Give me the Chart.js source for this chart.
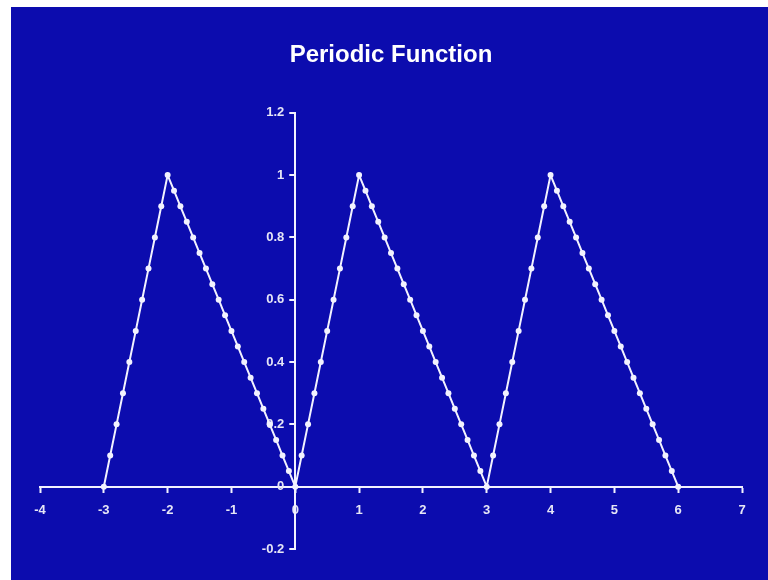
<!DOCTYPE html>
<html>
<head>
<meta charset="utf-8">
<title>Periodic Function</title>
<script src="https://cdn.jsdelivr.net/npm/chart.js@4/dist/chart.umd.min.js"></script>
<style>
  html, body { margin: 0; padding: 0; background: #ffffff; }
  canvas { display: block; }
</style>
</head>
<body>
<canvas id="chart" width="768" height="580"></canvas>
<script>
// Sawtooth-like periodic function sampled every 0.1 from x = -3 to x = 6
const xValues = [
  -3, -2.9, -2.8, -2.7, -2.6, -2.5, -2.4, -2.3, -2.2, -2.1,
  -2, -1.9, -1.8, -1.7, -1.6, -1.5, -1.4, -1.3, -1.2, -1.1,
  -1, -0.9, -0.8, -0.7, -0.6, -0.5, -0.4, -0.3, -0.2, -0.1,
  0, 0.1, 0.2, 0.3, 0.4, 0.5, 0.6, 0.7, 0.8, 0.9,
  1, 1.1, 1.2, 1.3, 1.4, 1.5, 1.6, 1.7, 1.8, 1.9,
  2, 2.1, 2.2, 2.3, 2.4, 2.5, 2.6, 2.7, 2.8, 2.9,
  3, 3.1, 3.2, 3.3, 3.4, 3.5, 3.6, 3.7, 3.8, 3.9,
  4, 4.1, 4.2, 4.3, 4.4, 4.5, 4.6, 4.7, 4.8, 4.9,
  5, 5.1, 5.2, 5.3, 5.4, 5.5, 5.6, 5.7, 5.8, 5.9,
  6
];
const yValues = [
  0, 0.1, 0.2, 0.3, 0.4, 0.5, 0.6, 0.7, 0.8, 0.9,
  1, 0.95, 0.9, 0.85, 0.8, 0.75, 0.7, 0.65, 0.6, 0.55,
  0.5, 0.45, 0.4, 0.35, 0.3, 0.25, 0.2, 0.15, 0.1, 0.05,
  0, 0.1, 0.2, 0.3, 0.4, 0.5, 0.6, 0.7, 0.8, 0.9,
  1, 0.95, 0.9, 0.85, 0.8, 0.75, 0.7, 0.65, 0.6, 0.55,
  0.5, 0.45, 0.4, 0.35, 0.3, 0.25, 0.2, 0.15, 0.1, 0.05,
  0, 0.1, 0.2, 0.3, 0.4, 0.5, 0.6, 0.7, 0.8, 0.9,
  1, 0.95, 0.9, 0.85, 0.8, 0.75, 0.7, 0.65, 0.6, 0.55,
  0.5, 0.45, 0.4, 0.35, 0.3, 0.25, 0.2, 0.15, 0.1, 0.05,
  0
];
const xTicks = [-4, -3, -2, -1, 0, 1, 2, 3, 4, 5, 6, 7];
const yTicks = [-0.2, 0, 0.2, 0.4, 0.6, 0.8, 1, 1.2];
const yTickLabels = ['-0.2', '0', '0.2', '0.4', '0.6', '0.8', '1', '1.2'];

const points = xValues.map((x, i) => ({ x: x, y: yValues[i] }));

const BG = '#0c0cae';
const FG = '#f2f2ff';
const LABEL = '#e6e6f6';
const Y_TICK_LEN = 6;
const Y_LABEL_GAP = 11;

// Slide-style backdrop: blue panel with a thin white margin on the top and left
const backdrop = {
  id: 'backdrop',
  beforeDraw(chart) {
    const ctx = chart.ctx;
    ctx.save();
    ctx.fillStyle = '#ffffff';
    ctx.fillRect(0, 0, chart.width, chart.height);
    ctx.fillStyle = BG;
    ctx.fillRect(11, 7, chart.width - 11, chart.height - 7);
    ctx.restore();
  }
};

// The y axis sits on x = 0: push its labels left of the line and add
// short outward tick marks, as on the x axis.
const centredYAxis = {
  id: 'centredYAxis',
  beforeDraw(chart) {
    const items = chart.scales.y.getLabelItems(chart.chartArea);
    if (!items._shifted) {
      items.forEach(it => { it.options.translation[0] -= Y_LABEL_GAP; });
      items._shifted = true;
    }
  },
  beforeDatasetsDraw(chart) {
    const ctx = chart.ctx;
    const x0 = chart.scales.x.getPixelForValue(0);
    ctx.save();
    ctx.strokeStyle = FG;
    ctx.lineWidth = 2;
    ctx.beginPath();
    yTicks.forEach(v => {
      const py = Math.round(chart.scales.y.getPixelForValue(v));
      ctx.moveTo(x0 - Y_TICK_LEN, py);
      ctx.lineTo(x0, py);
    });
    ctx.stroke();
    ctx.restore();
  }
};

const tickFont = { family: '"Liberation Sans", Arial, sans-serif', size: 13, weight: 'bold' };

new Chart(document.getElementById('chart'), {
  type: 'scatter',
  data: {
    datasets: [{
      data: points,
      showLine: true,
      borderColor: FG,
      borderWidth: 2,
      pointRadius: 3,
      pointBackgroundColor: FG,
      pointBorderColor: FG,
      pointBorderWidth: 0,
      tension: 0
    }]
  },
  options: {
    responsive: false,
    animation: false,
    layout: { padding: { left: 40, right: 26, top: 0, bottom: 31 } },
    plugins: {
      legend: { display: false },
      tooltip: { enabled: false },
      title: {
        display: true,
        text: 'Periodic Function',
        color: '#ffffff',
        font: { family: '"Liberation Sans", Arial, sans-serif', size: 24, weight: 'bold', lineHeight: 1.2 },
        padding: { top: 41, bottom: 43 }
      }
    },
    scales: {
      x: {
        type: 'linear',
        position: { y: 0 },
        min: -4,
        max: 7,
        afterBuildTicks(scale) { scale.ticks = xTicks.map(v => ({ value: v })); },
        ticks: {
          color: LABEL,
          font: tickFont,
          padding: 11,
          callback: (v) => String(v)
        },
        grid: {
          drawOnChartArea: false,
          drawTicks: true,
          tickLength: 5,
          tickWidth: 2,
          tickColor: FG
        },
        border: { display: true, color: FG, width: 2 }
      },
      y: {
        type: 'linear',
        position: { x: 0 },
        min: -0.2,
        max: 1.2,
        afterBuildTicks(scale) { scale.ticks = yTicks.map(v => ({ value: v })); },
        ticks: {
          color: LABEL,
          font: tickFont,
          padding: 4,
          callback: (v) => {
            const i = yTicks.findIndex(t => Math.abs(t - v) < 1e-9);
            return i >= 0 ? yTickLabels[i] : '';
          }
        },
        grid: { display: false },
        border: { display: true, color: FG, width: 2 }
      }
    }
  },
  plugins: [backdrop, centredYAxis]
});
</script>
</body>
</html>
